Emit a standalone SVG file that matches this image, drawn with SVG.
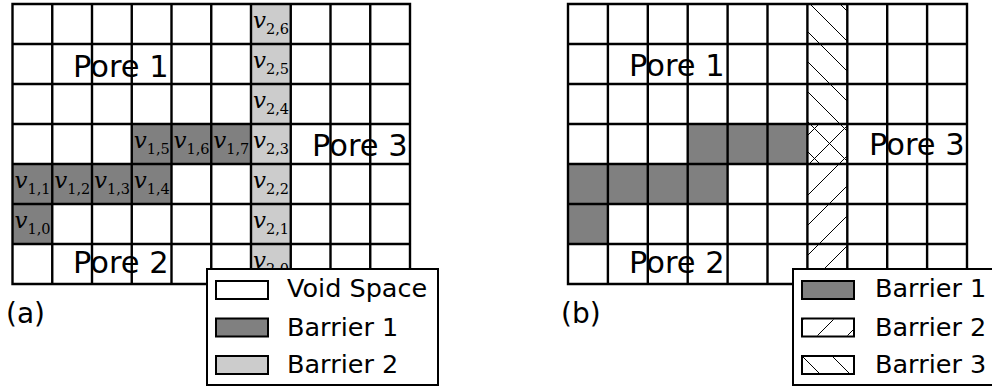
<svg xmlns="http://www.w3.org/2000/svg" width="992" height="387" viewBox="0 0 992 387">
<style>
.grid{fill:none;stroke:#000;stroke-width:2.4;stroke-linecap:square}
.b1{fill:#808080}
.b2{fill:#cccccc}
.lbl{font-family:"DejaVu Sans",sans-serif;fill:#000}
.pore{font-size:30.5px}
.leg{font-size:25.5px}
.cap{font-size:28px}
.v{font-family:"DejaVu Serif",serif;font-style:italic;font-size:23px;fill:#000}
.sub{font-style:normal;font-size:14.5px}
.box{fill:#fff;stroke:#000;stroke-width:2}
.sw{stroke:#000;stroke-width:2}
</style>
<defs>
<pattern id="hf" patternUnits="userSpaceOnUse" x="13" y="0" width="30" height="30"><path d="M-3,3 L3,-3 M0,30 L30,0 M27,33 L33,27" stroke="#000" stroke-width="1"/></pattern>
<pattern id="hb" patternUnits="userSpaceOnUse" x="0" y="4" width="30" height="30"><path d="M0,0 L30,30 M-3,27 L3,33 M27,-3 L33,3" stroke="#000" stroke-width="1"/></pattern>
</defs>
<rect width="992" height="387" fill="#fff"/>

<g id="panel-a">
 <g id="a-fills">
  <rect class="b1" x="131.75" y="124" width="119.25" height="40"/>
  <rect class="b1" x="12.5" y="164" width="159" height="40"/>
  <rect class="b1" x="12.5" y="204" width="39.75" height="40"/>
  <rect class="b2" x="251" y="4" width="39.75" height="280"/>
 </g>
 <path id="a-grid" class="grid" d="M12.5,4V284M52.25,4V284M92,4V284M131.75,4V284M171.5,4V284M211.25,4V284M251,4V284M290.75,4V284M330.5,4V284M370.25,4V284M410,4V284M12.5,4H410M12.5,44H410M12.5,84H410M12.5,124H410M12.5,164H410M12.5,204H410M12.5,244H410M12.5,284H410"/>
 <g id="a-vars">
  <text class="v" x="14.5" y="228">v<tspan class="sub" dy="6">1,0</tspan></text>
  <text class="v" x="14.5" y="188">v<tspan class="sub" dy="6">1,1</tspan></text>
  <text class="v" x="54.25" y="188">v<tspan class="sub" dy="6">1,2</tspan></text>
  <text class="v" x="94" y="188">v<tspan class="sub" dy="6">1,3</tspan></text>
  <text class="v" x="133.75" y="188">v<tspan class="sub" dy="6">1,4</tspan></text>
  <text class="v" x="133.75" y="148">v<tspan class="sub" dy="6">1,5</tspan></text>
  <text class="v" x="173.5" y="148">v<tspan class="sub" dy="6">1,6</tspan></text>
  <text class="v" x="213.25" y="148">v<tspan class="sub" dy="6">1,7</tspan></text>
  <text class="v" x="253" y="28">v<tspan class="sub" dy="6">2,6</tspan></text>
  <text class="v" x="253" y="68">v<tspan class="sub" dy="6">2,5</tspan></text>
  <text class="v" x="253" y="108">v<tspan class="sub" dy="6">2,4</tspan></text>
  <text class="v" x="253" y="148">v<tspan class="sub" dy="6">2,3</tspan></text>
  <text class="v" x="253" y="188">v<tspan class="sub" dy="6">2,2</tspan></text>
  <text class="v" x="253" y="228">v<tspan class="sub" dy="6">2,1</tspan></text>
  <text class="v" x="253" y="268">v<tspan class="sub" dy="6">2,0</tspan></text>
 </g>
 <g id="a-pores" class="lbl pore">
  <text x="73" y="77">Pore 1</text>
  <text x="73" y="273">Pore 2</text>
  <text x="312" y="156">Pore 3</text>
 </g>
 <text id="a-caption" class="lbl cap" x="6" y="323">(a)</text>
 <g id="a-legend">
  <rect class="box" x="207" y="269" width="231" height="116"/>
  <rect class="sw" fill="#fff" x="216" y="281" width="52" height="18"/>
  <rect class="sw b1" x="216" y="318.5" width="52" height="18"/>
  <rect class="sw b2" x="216" y="356" width="52" height="18"/>
  <g class="lbl leg">
   <text x="287" y="297">Void Space</text>
   <text x="287" y="336">Barrier 1</text>
   <text x="287" y="373">Barrier 2</text>
  </g>
 </g>
</g>

<g id="panel-b">
 <g id="b-fills">
  <rect class="b1" x="687.7" y="124" width="119.7" height="40"/>
  <rect class="b1" x="568" y="164" width="159.6" height="40"/>
  <rect class="b1" x="568" y="204" width="39.9" height="40"/>
  <rect fill="url(#hb)" x="807.4" y="4" width="39.9" height="160"/>
  <rect fill="url(#hf)" x="807.4" y="124" width="39.9" height="160"/>
 </g>
 <path id="b-grid" class="grid" d="M568,4V284M607.9,4V284M647.8,4V284M687.7,4V284M727.6,4V284M767.5,4V284M807.4,4V284M847.3,4V284M887.2,4V284M927.1,4V284M967,4V284M568,4H967M568,44H967M568,84H967M568,124H967M568,164H967M568,204H967M568,244H967M568,284H967"/>
 <g id="b-pores" class="lbl pore">
  <text x="629" y="76">Pore 1</text>
  <text x="629" y="273">Pore 2</text>
  <text x="869" y="155">Pore 3</text>
 </g>
 <text id="b-caption" class="lbl cap" x="561" y="323">(b)</text>
 <g id="b-legend">
  <rect class="box" x="793" y="269" width="210" height="116"/>
  <rect class="sw b1" x="802" y="281" width="52" height="18"/>
  <rect class="sw" fill="#fff" x="802" y="318.5" width="52" height="18"/>
  <rect fill="url(#hf)" x="803" y="319.5" width="50" height="16"/>
  <rect class="sw" fill="#fff" x="802" y="356" width="52" height="18"/>
  <rect fill="url(#hb)" x="803" y="357" width="50" height="16"/>
  <g class="lbl leg">
   <text x="875" y="297">Barrier 1</text>
   <text x="875" y="336">Barrier 2</text>
   <text x="875" y="373">Barrier 3</text>
  </g>
 </g>
</g>
</svg>
